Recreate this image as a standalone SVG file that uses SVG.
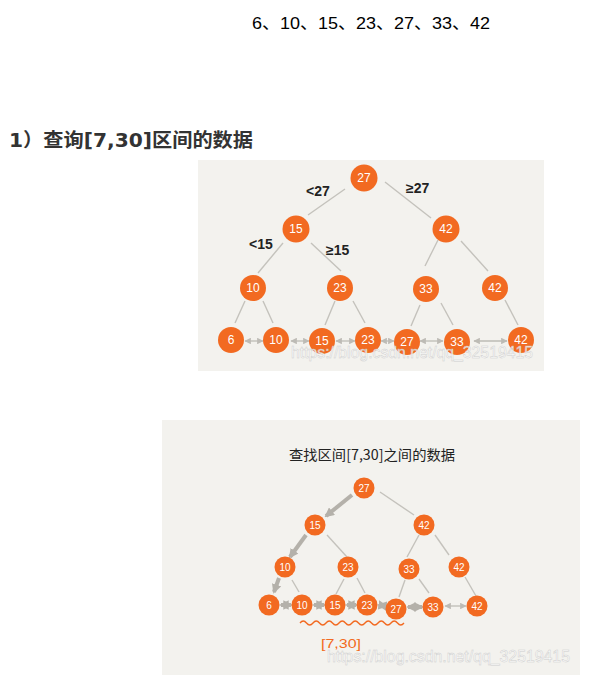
<svg xmlns="http://www.w3.org/2000/svg" width="594" height="691" viewBox="0 0 594 691">
<defs>
<style>
.panel{fill:#f3f2ee}
.n{fill:#f26a21}
.nt{fill:#fff;font-family:"Liberation Sans",Arial,sans-serif;text-anchor:middle}
.t1{font-size:12px}
.t2{font-size:10px}
.e{stroke:#c4c2bc;stroke-width:1.4;fill:none}
.thin{stroke:#bdbbb5;stroke-width:1.3;fill:none}
.thick{stroke:#b4b1aa;stroke-width:4;fill:none}
.lab{font-family:"Comic Sans MS","Liberation Sans",sans-serif;font-size:14px;font-weight:bold;fill:#222}
.wm{font-family:"Liberation Sans",Arial,sans-serif;font-size:17px;fill:#fff;stroke:#c8c8c8;stroke-width:0.5;opacity:0.85}
</style>
<marker id="ah" viewBox="0 0 10 10" refX="9" refY="5" markerWidth="5" markerHeight="5" orient="auto-start-reverse"><path d="M0,0 L10,5 L0,10 z" fill="#bdbbb5"/></marker>
<marker id="ahT" viewBox="0 0 10 10" refX="8" refY="5" markerWidth="2.4" markerHeight="2.4" orient="auto-start-reverse"><path d="M0,0 L10,5 L0,10 z" fill="#b4b1aa"/></marker>
</defs>

<text x="252" y="29" font-family="'Liberation Sans','Noto Sans CJK SC',sans-serif" font-size="17" fill="#000" textLength="238" lengthAdjust="spacingAndGlyphs">6、10、15、23、27、33、42</text>
<text x="9" y="147" font-family="'DejaVu Sans','Noto Sans CJK SC',sans-serif" font-weight="bold" font-size="19" fill="#333" textLength="244" lengthAdjust="spacingAndGlyphs">1）查询[7,30]区间的数据</text>

<rect class="panel" x="198" y="160" width="346" height="211"/>
<rect class="panel" x="162" y="420" width="418" height="255"/>

<g id="connectors">
<!-- panel 1 tree edges -->
<line class="e" x1="345" y1="189" x2="308" y2="215"/>
<line class="e" x1="385" y1="182" x2="431" y2="218"/>
<line class="e" x1="283" y1="243" x2="258" y2="273"/>
<line class="e" x1="311" y1="243" x2="341" y2="271"/>
<line class="e" x1="438" y1="240" x2="425" y2="266"/>
<line class="e" x1="461" y1="241" x2="488" y2="271"/>
<line class="e" x1="245" y1="301" x2="235" y2="323"/>
<line class="e" x1="263" y1="301" x2="273" y2="323"/>
<line class="e" x1="335" y1="301" x2="325" y2="325"/>
<line class="e" x1="353" y1="301" x2="365" y2="323"/>
<line class="e" x1="420" y1="305" x2="411" y2="326"/>
<line class="e" x1="441" y1="303" x2="453" y2="325"/>
<line class="e" x1="505" y1="300" x2="518" y2="325"/>
<!-- panel 1 leaf arrows -->
<line class="thin" x1="245" y1="341" x2="263" y2="341" marker-start="url(#ah)" marker-end="url(#ah)"/>
<line class="thin" x1="291" y1="341" x2="309" y2="341" marker-start="url(#ah)" marker-end="url(#ah)"/>
<line class="thin" x1="336" y1="341" x2="355" y2="341" marker-start="url(#ah)" marker-end="url(#ah)"/>
<line class="thin" x1="381" y1="341" x2="394" y2="341" marker-start="url(#ah)" marker-end="url(#ah)"/>
<line class="thin" x1="420" y1="341" x2="443" y2="341" marker-start="url(#ah)" marker-end="url(#ah)"/>
<line class="thin" x1="474" y1="341" x2="507" y2="341" marker-start="url(#ah)" marker-end="url(#ah)"/>

<!-- panel 2 tree edges -->
<line class="thick" x1="352" y1="495" x2="326" y2="516" marker-end="url(#ahT)"/>
<line class="e" x1="380" y1="492" x2="414" y2="515"/>
<line class="thick" x1="306" y1="535" x2="290" y2="557" marker-end="url(#ahT)"/>
<line class="e" x1="327" y1="535" x2="347" y2="557"/>
<line class="e" x1="419" y1="535" x2="407" y2="557"/>
<line class="e" x1="435" y1="535" x2="449" y2="555"/>
<line class="thick" x1="279" y1="578" x2="274" y2="592" marker-end="url(#ahT)"/>
<line class="e" x1="292" y1="580" x2="299" y2="592"/>
<line class="e" x1="344" y1="579" x2="336" y2="594"/>
<line class="e" x1="357" y1="578" x2="365" y2="593"/>
<line class="e" x1="405" y1="580" x2="399" y2="597"/>
<line class="e" x1="419" y1="579" x2="429" y2="593"/>
<line class="e" x1="465" y1="577" x2="476" y2="596"/>
<!-- panel 2 leaf arrows -->
<line class="thick" x1="281" y1="605" x2="291" y2="605" marker-start="url(#ahT)" marker-end="url(#ahT)"/>
<line class="thick" x1="314" y1="605" x2="324" y2="605" marker-start="url(#ahT)" marker-end="url(#ahT)"/>
<line class="thick" x1="347" y1="605" x2="356" y2="605" marker-start="url(#ahT)" marker-end="url(#ahT)"/>
<line class="thick" x1="379" y1="605" x2="386" y2="606" marker-start="url(#ahT)" marker-end="url(#ahT)"/>
<line class="thick" x1="408" y1="607" x2="422" y2="607" marker-start="url(#ahT)" marker-end="url(#ahT)"/>
<line class="thin" x1="445" y1="606" x2="466" y2="606" marker-start="url(#ah)" marker-end="url(#ah)"/>
</g>

<!-- panel 1 edge labels -->
<text class="lab" x="306" y="196">&lt;27</text>
<text class="lab" x="406" y="193">≥27</text>
<text class="lab" x="249" y="249">&lt;15</text>
<text class="lab" x="326" y="255">≥15</text>

<!-- panel 1 nodes -->
<g id="p1-n27"><circle class="n" cx="364" cy="178" r="13.5"/><text class="nt t1" x="364" y="182">27</text></g>
<g id="p1-n15"><circle class="n" cx="296" cy="229" r="13.5"/><text class="nt t1" x="296" y="233">15</text></g>
<g id="p1-n42a"><circle class="n" cx="446" cy="229" r="13.5"/><text class="nt t1" x="446" y="233">42</text></g>
<g id="p1-n10a"><circle class="n" cx="253" cy="288" r="13"/><text class="nt t1" x="253" y="292">10</text></g>
<g id="p1-n23a"><circle class="n" cx="340" cy="288" r="13"/><text class="nt t1" x="340" y="292">23</text></g>
<g id="p1-n33a"><circle class="n" cx="426" cy="289" r="13"/><text class="nt t1" x="426" y="293">33</text></g>
<g id="p1-n42b"><circle class="n" cx="495" cy="288" r="13"/><text class="nt t1" x="495" y="292">42</text></g>
<g id="p1-l6"><circle class="n" cx="231" cy="340" r="13"/><text class="nt t1" x="231" y="344">6</text></g>
<g id="p1-l10"><circle class="n" cx="276" cy="340" r="13"/><text class="nt t1" x="276" y="344">10</text></g>
<g id="p1-l15"><circle class="n" cx="322" cy="341" r="13"/><text class="nt t1" x="322" y="345">15</text></g>
<g id="p1-l23"><circle class="n" cx="368" cy="340" r="13"/><text class="nt t1" x="368" y="344">23</text></g>
<g id="p1-l27"><circle class="n" cx="407" cy="342" r="13"/><text class="nt t1" x="407" y="346">27</text></g>
<g id="p1-l33"><circle class="n" cx="457" cy="342" r="13"/><text class="nt t1" x="457" y="346">33</text></g>
<g id="p1-l42"><circle class="n" cx="521" cy="340" r="13"/><text class="nt t1" x="521" y="344">42</text></g>

<text class="wm" x="291" y="358" textLength="242" lengthAdjust="spacingAndGlyphs">https://blog.csdn.net/qq_32519415</text>

<!-- panel 2 -->
<text x="289" y="460" font-family="'Noto Sans CJK SC',sans-serif" font-size="14" fill="#222" textLength="166" lengthAdjust="spacingAndGlyphs">查找区间[7,30]之间的数据</text>

<g id="p2-n27"><circle class="n" cx="364" cy="488" r="10.5"/><text class="nt t2" x="364" y="491.5">27</text></g>
<g id="p2-n15"><circle class="n" cx="315" cy="525" r="10.5"/><text class="nt t2" x="315" y="528.5">15</text></g>
<g id="p2-n42a"><circle class="n" cx="424" cy="525" r="10.5"/><text class="nt t2" x="424" y="528.5">42</text></g>
<g id="p2-n10a"><circle class="n" cx="285" cy="567" r="10.5"/><text class="nt t2" x="285" y="570.5">10</text></g>
<g id="p2-n23a"><circle class="n" cx="348" cy="567" r="10.5"/><text class="nt t2" x="348" y="570.5">23</text></g>
<g id="p2-n33a"><circle class="n" cx="409" cy="569" r="10.5"/><text class="nt t2" x="409" y="572.5">33</text></g>
<g id="p2-n42b"><circle class="n" cx="459" cy="567" r="10.5"/><text class="nt t2" x="459" y="570.5">42</text></g>
<g id="p2-l6"><circle class="n" cx="269" cy="605" r="10.5"/><text class="nt t2" x="269" y="608.5">6</text></g>
<g id="p2-l10"><circle class="n" cx="302" cy="605" r="10.5"/><text class="nt t2" x="302" y="608.5">10</text></g>
<g id="p2-l15"><circle class="n" cx="335" cy="605" r="10.5"/><text class="nt t2" x="335" y="608.5">15</text></g>
<g id="p2-l23"><circle class="n" cx="367" cy="605" r="10.5"/><text class="nt t2" x="367" y="608.5">23</text></g>
<g id="p2-l27"><circle class="n" cx="396" cy="609" r="10.5"/><text class="nt t2" x="396" y="612.5">27</text></g>
<g id="p2-l33"><circle class="n" cx="433" cy="607" r="10.5"/><text class="nt t2" x="433" y="610.5">33</text></g>
<g id="p2-l42"><circle class="n" cx="477" cy="606" r="10.5"/><text class="nt t2" x="477" y="609.5">42</text></g>

<path d="M300,623 q3.25,-4 6.5,0 t6.5,0 t6.5,0 t6.5,0 t6.5,0 t6.5,0 t6.5,0 t6.5,0 t6.5,0 t6.5,0 t6.5,0 t6.5,0 t6.5,0 t6.5,0 t6.5,0 t6.5,0" fill="none" stroke="#f26a21" stroke-width="1.3"/>
<text x="321" y="648" font-family="'Liberation Sans',sans-serif" font-size="13" fill="#f26a21" textLength="40" lengthAdjust="spacingAndGlyphs">[7,30]</text>

<text class="wm" x="327" y="662" textLength="243" lengthAdjust="spacingAndGlyphs">https://blog.csdn.net/qq_32519415</text>
</svg>
